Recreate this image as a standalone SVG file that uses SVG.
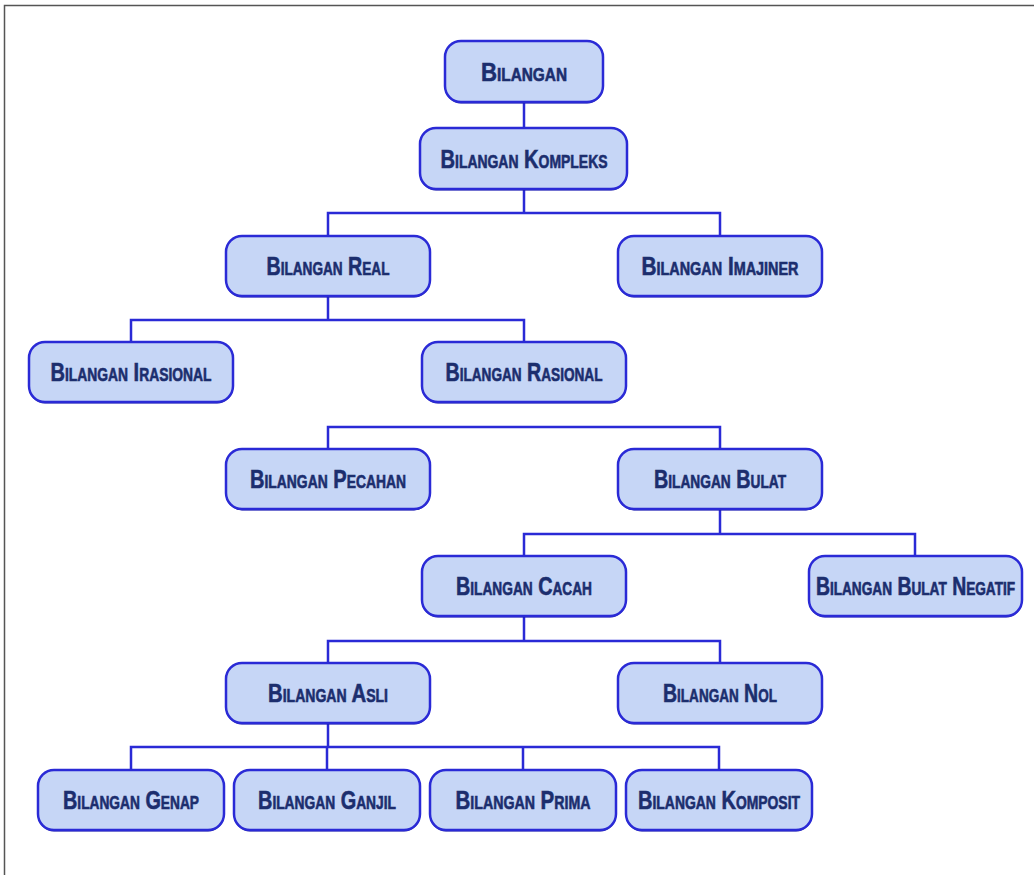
<svg xmlns="http://www.w3.org/2000/svg" width="1034" height="875" viewBox="0 0 1034 875">
<defs>
<style>
.box{fill:#c6d6f6;stroke:#2a2ad6;stroke-width:2.5}
.sh{fill:#1a1aa0}
.t{font-family:"Liberation Sans","DejaVu Sans",sans-serif;font-weight:bold;font-variant:small-caps;font-size:26px;fill:#1c2e6e;stroke:#1c2e6e;stroke-width:0.6;text-anchor:middle}
.c{fill:none;stroke:#2a2ad6;stroke-width:2.5}
</style>
</defs>
<rect width="1034" height="875" fill="#ffffff"/>
<path d="M4.5 875 V5.5 H1034" fill="none" stroke="#555" stroke-width="1.5"/>
<g id="connectors">
<path class="c" d="M524 102 V128"/>
<path class="c" d="M524 189 V213 M328 236 V213 H720 V236"/>
<path class="c" d="M328 296 V320 M131 342 V320 H524 V342"/>
<path class="c" d="M328 449 V427 H720 V449"/>
<path class="c" d="M720 509 V534 M524 556 V534 H915 V556"/>
<path class="c" d="M524 616 V641 M328 663 V641 H720 V663"/>
<path class="c" d="M328 723 V747 M131 770 V747 H719 V770 M327 747 V770 M523 747 V770"/>
</g>
<g id="n1"><rect class="sh" x="445" y="42.5" width="158" height="61" rx="16"/><rect class="box" x="445" y="41" width="158" height="61" rx="16"/><text class="t" x="524" y="81" textLength="86" lengthAdjust="spacingAndGlyphs">Bilangan</text></g>
<g id="n2"><rect class="sh" x="420" y="129.5" width="207" height="61" rx="16"/><rect class="box" x="420" y="128" width="207" height="61" rx="16"/><text class="t" x="524" y="168" textLength="167" lengthAdjust="spacingAndGlyphs">Bilangan Kompleks</text></g>
<g id="n3"><rect class="sh" x="226" y="237.5" width="204" height="60" rx="16"/><rect class="box" x="226" y="236" width="204" height="60" rx="16"/><text class="t" x="328" y="275" textLength="123" lengthAdjust="spacingAndGlyphs">Bilangan Real</text></g>
<g id="n4"><rect class="sh" x="618" y="237.5" width="204" height="60" rx="16"/><rect class="box" x="618" y="236" width="204" height="60" rx="16"/><text class="t" x="720" y="275" textLength="157" lengthAdjust="spacingAndGlyphs">Bilangan Imajiner</text></g>
<g id="n5"><rect class="sh" x="29" y="343.5" width="204" height="60" rx="16"/><rect class="box" x="29" y="342" width="204" height="60" rx="16"/><text class="t" x="131" y="381" textLength="161" lengthAdjust="spacingAndGlyphs">Bilangan Irasional</text></g>
<g id="n6"><rect class="sh" x="422" y="343.5" width="204" height="60" rx="16"/><rect class="box" x="422" y="342" width="204" height="60" rx="16"/><text class="t" x="524" y="381" textLength="157" lengthAdjust="spacingAndGlyphs">Bilangan Rasional</text></g>
<g id="n7"><rect class="sh" x="226" y="450.5" width="204" height="60" rx="16"/><rect class="box" x="226" y="449" width="204" height="60" rx="16"/><text class="t" x="328" y="488" textLength="156" lengthAdjust="spacingAndGlyphs">Bilangan Pecahan</text></g>
<g id="n8"><rect class="sh" x="618" y="450.5" width="204" height="60" rx="16"/><rect class="box" x="618" y="449" width="204" height="60" rx="16"/><text class="t" x="720" y="488" textLength="132" lengthAdjust="spacingAndGlyphs">Bilangan Bulat</text></g>
<g id="n9"><rect class="sh" x="422" y="557.5" width="204" height="60" rx="16"/><rect class="box" x="422" y="556" width="204" height="60" rx="16"/><text class="t" x="524" y="595" textLength="136" lengthAdjust="spacingAndGlyphs">Bilangan Cacah</text></g>
<g id="n10"><rect class="sh" x="809" y="557.5" width="213" height="60" rx="16"/><rect class="box" x="809" y="556" width="213" height="60" rx="16"/><text class="t" transform="translate(915.5,595) scale(0.68,1)" x="0" y="0" style="font-size:25px" textLength="293" lengthAdjust="spacingAndGlyphs">Bilangan Bulat Negatif</text></g>
<g id="n11"><rect class="sh" x="226" y="664.5" width="204" height="60" rx="16"/><rect class="box" x="226" y="663" width="204" height="60" rx="16"/><text class="t" x="328" y="702" textLength="120" lengthAdjust="spacingAndGlyphs">Bilangan Asli</text></g>
<g id="n12"><rect class="sh" x="618" y="664.5" width="204" height="60" rx="16"/><rect class="box" x="618" y="663" width="204" height="60" rx="16"/><text class="t" x="720" y="702" textLength="114" lengthAdjust="spacingAndGlyphs">Bilangan Nol</text></g>
<g id="n13"><rect class="sh" x="38" y="771.5" width="186" height="60" rx="16"/><rect class="box" x="38" y="770" width="186" height="60" rx="16"/><text class="t" x="131" y="809" textLength="136" lengthAdjust="spacingAndGlyphs">Bilangan Genap</text></g>
<g id="n14"><rect class="sh" x="234" y="771.5" width="186" height="60" rx="16"/><rect class="box" x="234" y="770" width="186" height="60" rx="16"/><text class="t" x="327" y="809" textLength="138" lengthAdjust="spacingAndGlyphs">Bilangan Ganjil</text></g>
<g id="n15"><rect class="sh" x="430" y="771.5" width="186" height="60" rx="16"/><rect class="box" x="430" y="770" width="186" height="60" rx="16"/><text class="t" x="523" y="809" textLength="135" lengthAdjust="spacingAndGlyphs">Bilangan Prima</text></g>
<g id="n16"><rect class="sh" x="626" y="771.5" width="186" height="60" rx="16"/><rect class="box" x="626" y="770" width="186" height="60" rx="16"/><text class="t" x="719" y="809" textLength="162" lengthAdjust="spacingAndGlyphs">Bilangan Komposit</text></g>
</svg>
